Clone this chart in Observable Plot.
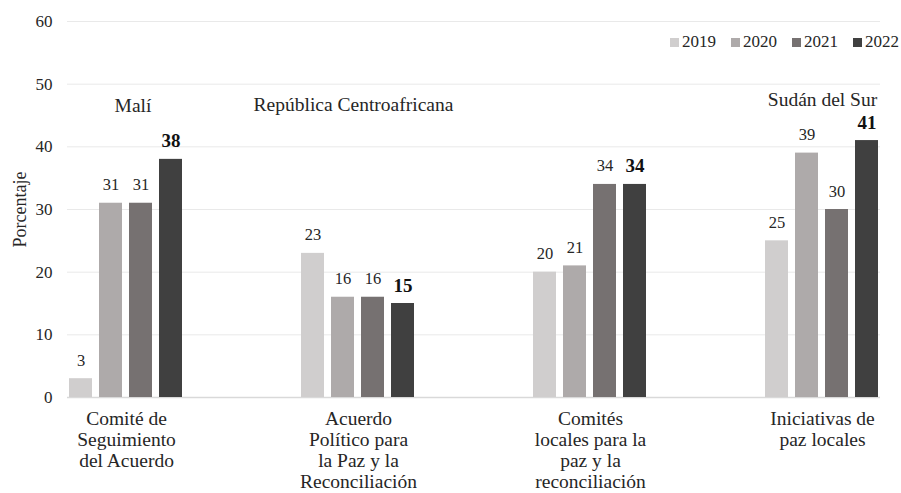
<!DOCTYPE html>
<html>
<head>
<meta charset="utf-8">
<script src="https://cdn.jsdelivr.net/npm/d3@7"></script>
<script src="https://cdn.jsdelivr.net/npm/@observablehq/plot@0.6"></script>
<style>
  html, body { margin: 0; padding: 0; background: #fff; }
  #wrap { position: relative; width: 901px; height: 493px; font-family: "Liberation Serif", "Times New Roman", serif; }
  #wrap svg { position: absolute; left: 0; top: 0; font-family: "Liberation Serif", "Times New Roman", serif; }
  #wrap svg text { font-family: "Liberation Serif", "Times New Roman", serif; }
  #legend { position: absolute; top: 32px; right: 2px; display: flex; gap: 15px; font-size: 17px; line-height: 20px; color: #262626; z-index: 2; }
  #legend span.item { display: flex; align-items: center; gap: 3px; }
  #legend span.sw { display: inline-block; width: 9px; height: 9px; }
</style>
</head>
<body>
<div id="wrap"><div id="legend"></div></div>
<script>
const years = ["2019", "2020", "2021", "2022"];
const categories = [
  "Comité de\nSeguimiento\ndel Acuerdo",
  "Acuerdo\nPolítico para\nla Paz y la\nReconciliación",
  "Comités\nlocales para la\npaz y la\nreconciliación",
  "Iniciativas de\npaz locales"
];
const values2019 = [3, 23, 20, 25];
const values2020 = [31, 16, 21, 39];
const values2021 = [31, 16, 34, 30];
const values2022 = [38, 15, 34, 41];
const countries = ["Malí", "República Centroafricana", "", "Sudán del Sur"];
const yTicks = [0, 10, 20, 30, 40, 50, 60];
const colors = ["#D0CECE", "#AEAAAA", "#767171", "#404040"];

const series = [values2019, values2020, values2021, values2022];
const data = [];
categories.forEach((c, i) => years.forEach((y, j) => data.push({cat: c, year: y, value: series[j][i]})));
const countryData = categories.map((c, i) => ({cat: c, name: countries[i]})).filter(d => d.name);

const FONT = "Liberation Serif";
const INK = "#262626";
const common = {
  width: 901,
  height: 493,
  marginLeft: 67,
  marginRight: 21,
  marginTop: 21,
  marginBottom: 96
};

// background grid spanning the whole frame
const grid = Plot.plot({
  ...common,
  style: {background: "white"},
  x: {axis: null},
  y: {domain: [0, 60], axis: null},
  marks: [
    Plot.ruleY(yTicks.filter(t => t > 0), {stroke: "#e9e9e9", strokeWidth: 1}),
    Plot.ruleY([0], {stroke: "#d9d9d9", strokeWidth: 1.5})
  ]
});

const chart = Plot.plot({
  ...common,
  style: {fontFamily: FONT, fontSize: "16px", color: INK, background: "transparent"},
  fx: {domain: categories, paddingInner: 0.5, paddingOuter: 0, label: null, axis: null},
  x: {domain: years, paddingInner: 0.22, paddingOuter: 0, axis: null},
  y: {domain: [0, 60], label: "Porcentaje"},
  color: {domain: years, range: colors},
  marks: [
    Plot.barY(data, {fx: "cat", x: "year", y: "value", fill: "year"}),
    Plot.text(data.filter(d => d.year !== "2022"), {fx: "cat", x: "year", y: "value", text: d => String(d.value), lineAnchor: "bottom", dy: -13, fontSize: 16.5, fontFamily: FONT, fill: INK}),
    Plot.text(data.filter(d => d.year === "2022"), {fx: "cat", x: "year", y: "value", text: d => String(d.value), lineAnchor: "bottom", dy: -12, fontSize: 19, fontWeight: "bold", fontFamily: FONT, fill: "#111"}),
    Plot.text(countryData.filter(d => d.name === "Malí"), {fx: "cat", text: "name", frameAnchor: "top", lineAnchor: "top", dy: 77, dx: 6.5, fontSize: 19.5, fontFamily: FONT, fill: INK}),
    Plot.text(countryData.filter(d => d.name === "República Centroafricana"), {fx: "cat", text: "name", frameAnchor: "top", lineAnchor: "top", dy: 76, dx: -5, fontSize: 19.5, fontFamily: FONT, fill: INK}),
    Plot.text(countryData.filter(d => d.name === "Sudán del Sur"), {fx: "cat", text: "name", frameAnchor: "top", lineAnchor: "top", dy: 71, fontSize: 19.5, fontFamily: FONT, fill: INK}),
    Plot.axisY({ticks: yTicks, tickSize: 0, tickPadding: 16, fontSize: 17, fontFamily: FONT, fill: INK, label: "Porcentaje", labelAnchor: "center", labelArrow: "none", labelOffset: 55}),
    Plot.axisFx({anchor: "bottom", tickSize: 0, tickPadding: 12, fontSize: 19.5, fontFamily: FONT, fill: INK, lineHeight: 1.09, label: null})
  ]
});
const wrap = document.getElementById("wrap");
wrap.prepend(chart);
wrap.prepend(grid);

// axis label font size
chart.querySelectorAll("g[aria-label='y-axis label'] text").forEach(t => t.setAttribute("font-size", 18));

const legend = document.getElementById("legend");
years.forEach((y, i) => {
  const item = document.createElement("span");
  item.className = "item";
  item.innerHTML = `<span class="sw" style="background:${colors[i]}"></span><span>${y}</span>`;
  legend.appendChild(item);
});
</script>
</body>
</html>
